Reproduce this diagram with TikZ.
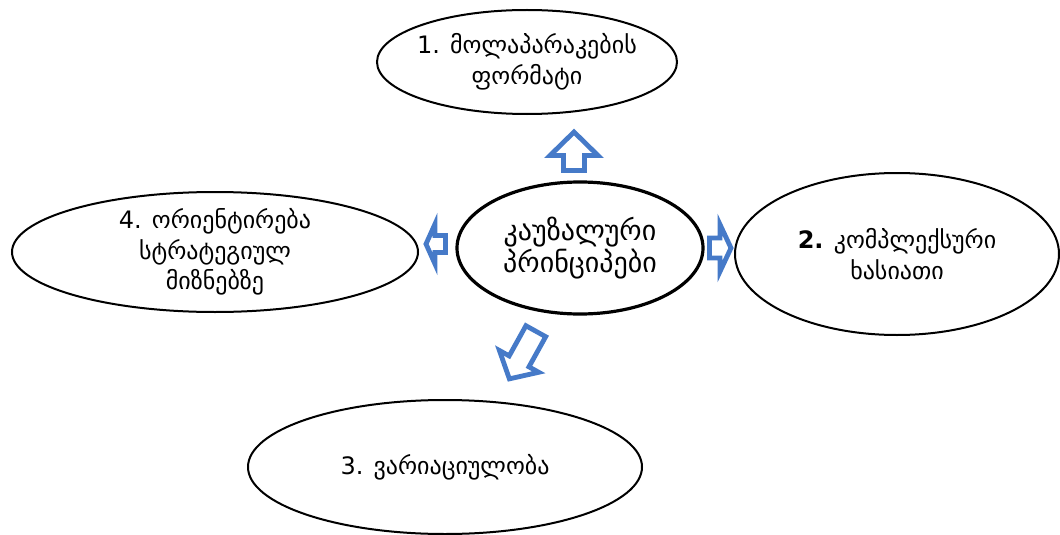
\documentclass[tikz,border=0pt]{standalone}
\usepackage{fontspec}
\setmainfont{DejaVu Sans}
\usetikzlibrary{shapes.geometric}
\definecolor{arrowblue}{RGB}{70,122,200}
\tikzset{pics/blkarrow/.style n args={4}{code={
  \draw[arrowblue, line width=3.6pt, fill=white, line join=miter]
    (0,-#1) -- (#3,-#1) -- (#3,-#2) -- (#4,0) -- (#3,#2) -- (#3,#1) -- (0,#1) -- cycle;
}}}
\begin{document}
\begin{tikzpicture}
        [x=0.75pt, y=-0.75pt,
         topic/.style={ellipse, draw=black, line width=1.5pt, inner xsep=-15pt, inner ysep=-5pt,
                       align=center, font=\fontsize{18}{23}\selectfont},
         core/.style={topic, line width=2.4pt, font=\fontsize{21}{24}\selectfont}]
        \useasboundingbox (0,0) rectangle (1060,535);
        \node [topic, minimum width=225pt, minimum height=78pt] (format) at (527,62)
              {1. მოლაპარაკების\\ფორმატი};
        \node [core, minimum width=184.5pt, minimum height=99pt] (causal) at (580,248)
              {კაუზალური\\პრინციპები};
        \node [topic, minimum width=304.5pt, minimum height=90pt] (goals) at (215,252)
              {4. ორიენტირება\\სტრატეგიულ\\მიზნებზე};
        \node [topic, minimum width=243pt, minimum height=121.5pt] (complex) at (897,254)
              {\textbf{2.} კომპლექსური\\ხასიათი};
        \node [topic, minimum width=295.5pt, minimum height=100.5pt] (variation) at (445,467)
              {3. ვარიაციულობა};
        % block arrows out of the centre
        \pic [rotate=90]  (toformat)    at (574,170.5) {blkarrow={10.5}{24}{15}{38.5}};
        \pic              (tocomplex)   at (709.5,248) {blkarrow={10}{23.5}{10.5}{21.5}};
        \pic [rotate=180] (togoals)     at (445.5,244) {blkarrow={8.5}{20}{10.5}{19.5}};
        \pic [rotate=241] (tovariation) at (535.8,331.2) {blkarrow={11.3}{22.5}{34.5}{54.5}};
    \end{tikzpicture}
\end{document}
